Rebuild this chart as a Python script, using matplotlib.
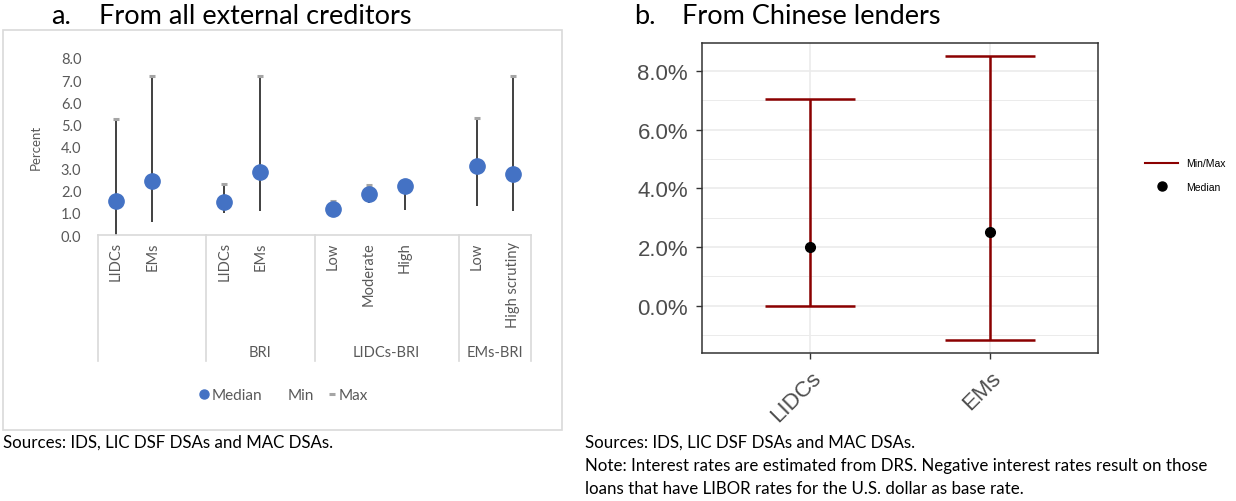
import matplotlib.pyplot as plt
from matplotlib.lines import Line2D
from matplotlib.patches import Rectangle

# panel a: from all external creditors (percent)
groups = ['', 'BRI', 'LIDCs-BRI', 'EMs-BRI']
group_cats = [['LIDCs', 'EMs'], ['LIDCs', 'EMs'], ['Low', 'Moderate', 'High'], ['Low', 'High scrutiny']]
median_a = [1.52, 2.46, 1.49, 2.84, 1.18, 1.86, 2.23, 3.14, 2.76]
min_a = [0.0, 0.60, 0.98, 1.09, 1.10, 1.45, 1.12, 1.33, 1.09]
max_a = [5.25, 7.18, 2.32, 7.18, 1.55, 2.26, 2.32, 5.31, 7.18]

# panel b: from Chinese lenders (percent)
cats_b = ['LIDCs', 'EMs']
median_b = [2.0, 2.5]
min_b = [0.0, -1.19]
max_b = [7.05, 8.52]

W, H = 1236, 502
XL_FONT = 'Lato'
GG_FONT = 'Liberation Sans'
GRAY_TXT = '#595959'


def fx(px):
    return px / W


def fy(py):
    return 1 - py / H


def panel_a(fig):
    ax = fig.add_axes([fx(98), fy(236), fx(433), 177 / H])
    # positions with an empty slot after each group except the last
    xs, labels, bounds = [], [], [-0.5]
    pos = 0
    for i, cats in enumerate(group_cats):
        for c in cats:
            xs.append(pos)
            labels.append(c)
            pos += 1
        if i < len(group_cats) - 1:
            pos += 1
        bounds.append(pos - 0.5)

    ax.vlines(xs, min_a, max_a, color='#404040', lw=1.4, zorder=2)
    ax.plot(xs, max_a, ls='none', marker='_', ms=4.5, mew=2.2, color='#A5A5A5', zorder=3)
    ax.plot(xs, median_a, ls='none', marker='o', ms=11, color='#4472C4', zorder=4)

    ax.set_xlim(-0.5, pos - 0.5)
    ax.set_ylim(0, 8)
    ax.set_yticks(range(0, 9))
    ax.set_yticklabels([f'{v:.1f}' for v in range(0, 9)], fontsize=10.5,
                       color=GRAY_TXT, family=XL_FONT)
    ax.tick_params(axis='y', length=0, pad=12)
    ax.set_xticks([])
    for s in ax.spines.values():
        s.set_visible(False)
    ax.set_ylabel('Percent', fontsize=9.5, color=GRAY_TXT, family=XL_FONT, labelpad=14)

    # multi-level category axis
    tr = ax.get_xaxis_transform()
    ax.plot([-0.5, pos - 0.5], [0, 0], color='#D9D9D9', lw=1.2, transform=tr, clip_on=False)
    for b in bounds:
        ax.plot([b, b], [0, -0.712], color='#D9D9D9', lw=1.2, transform=tr, clip_on=False)
    for x, lab in zip(xs, labels):
        ax.text(x, -0.035, lab, rotation=90, ha='center', va='top', transform=tr,
                fontsize=10.5, color=GRAY_TXT, family=XL_FONT)
    for g, lo, hi in zip(groups, bounds[:-1], bounds[1:]):
        ax.text((lo + hi) / 2, -0.66, g, ha='center', va='center', transform=tr,
                fontsize=10.5, color=GRAY_TXT, family=XL_FONT)

    handles = [Line2D([], [], ls='none', marker='o', ms=6.5, color='#4472C4'),
               Line2D([], [], ls='none'),
               Line2D([], [], ls='none', marker='_', ms=4.5, mew=2.2, color='#A5A5A5')]
    leg = fig.legend(handles, ['Median', 'Min', 'Max'], loc='center',
                     bbox_to_anchor=(fx(284), fy(396)), ncol=3, frameon=False,
                     handlelength=0.6, handletextpad=0.15, columnspacing=0.9,
                     prop={'family': XL_FONT, 'size': 11})
    for t in leg.get_texts():
        t.set_color(GRAY_TXT)

    fig.add_artist(Rectangle((fx(3), fy(431)), fx(559), (431 - 31) / H, fill=False,
                             edgecolor='#D9D9D9', lw=1.2, transform=fig.transFigure))


def panel_b(fig):
    ax = fig.add_axes([fx(702), fy(354), fx(396), 310 / H])
    xs = list(range(1, len(cats_b) + 1))
    red = '#8B0000'
    ax.vlines(xs, min_b, max_b, color=red, lw=1.8, zorder=3)
    ax.hlines(min_b, [x - 0.25 for x in xs], [x + 0.25 for x in xs], color=red, lw=1.8, zorder=3)
    ax.hlines(max_b, [x - 0.25 for x in xs], [x + 0.25 for x in xs], color=red, lw=1.8, zorder=3)
    ax.plot(xs, median_b, ls='none', marker='o', ms=7, color='black', zorder=4)

    ax.set_xlim(0.4, len(cats_b) + 0.6)
    ax.set_ylim(-1.62, 8.96)
    ax.set_yticks([0, 2, 4, 6, 8])
    ax.set_yticks([-1, 1, 3, 5, 7], minor=True)
    ax.set_yticklabels([f'{v:.1f}%' for v in [0, 2, 4, 6, 8]], fontsize=16,
                       color='#4D4D4D', family=GG_FONT)
    ax.set_xticks(xs)
    ax.set_xticklabels(cats_b, rotation=45, ha='right', rotation_mode='anchor',
                       fontsize=16, color='#4D4D4D', family=GG_FONT)
    ax.tick_params(axis='both', which='major', length=4, width=1, color='#333333', pad=6)
    ax.tick_params(axis='y', which='minor', length=0)
    ax.grid(True, which='major', color='#EBEBEB', lw=1.2, zorder=0)
    ax.grid(True, which='minor', axis='y', color='#EBEBEB', lw=0.7, zorder=0)
    ax.set_axisbelow(True)
    for s in ax.spines.values():
        s.set_color('#333333')
        s.set_linewidth(1.1)

    handles = [Line2D([], [], color=red, lw=1.5),
               Line2D([], [], ls='none', marker='o', ms=6.5, color='black')]
    fig.legend(handles, ['Min/Max', 'Median'], loc='center left',
               bbox_to_anchor=(fx(1136), fy(176)), frameon=False, handlelength=3.1,
               handletextpad=0.8, labelspacing=1.3,
               prop={'family': GG_FONT, 'size': 7.5})


fig = plt.figure(figsize=(W / 100, H / 100), dpi=100)
panel_a(fig)
panel_b(fig)

title_kw = dict(fontsize=19.5, family=XL_FONT, color='black', va='center')
fig.text(fx(51), fy(16), 'a.', **title_kw)
fig.text(fx(99), fy(16), 'From all external creditors', **title_kw)
fig.text(fx(634), fy(16), 'b.', **title_kw)
fig.text(fx(682), fy(16), 'From Chinese lenders', **title_kw)

note_kw = dict(fontsize=12.2, family=XL_FONT, color='black', va='center')
fig.text(fx(3), fy(443), 'Sources: IDS, LIC DSF DSAs and MAC DSAs.', **note_kw)
fig.text(fx(585), fy(443), 'Sources: IDS, LIC DSF DSAs and MAC DSAs.', **note_kw)
fig.text(fx(585), fy(466), 'Note: Interest rates are estimated from DRS. Negative interest rates result on those', **note_kw)
fig.text(fx(585), fy(489), 'loans that have LIBOR rates for the U.S. dollar as base rate.', **note_kw)

fig.savefig('out.png', dpi=100)
